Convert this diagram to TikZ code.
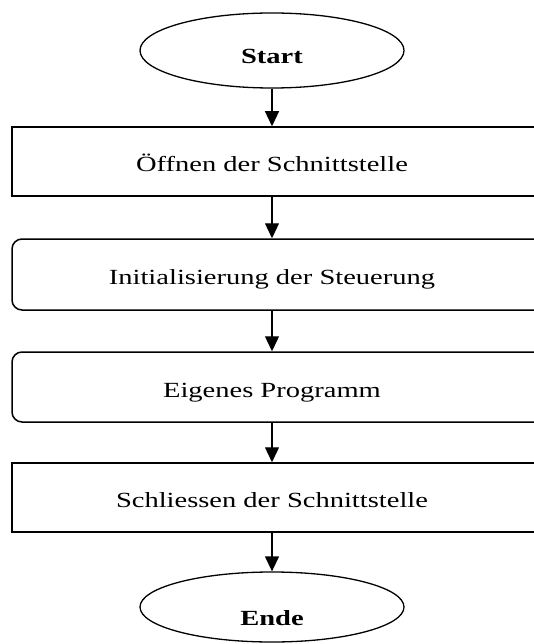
\documentclass[tikz,border=0pt]{standalone}
\usepackage{fontspec}
\setmainfont{Liberation Serif}
\usepackage{graphicx}
\usetikzlibrary{shapes.geometric,arrows.meta}
\newcommand{\sxt}[3]{\hspace*{#1}\raisebox{#2}[14.3pt][0pt]{\scalebox{1.32}[1]{#3}}}
\begin{document}
\begin{tikzpicture}[x=1pt,y=-1pt,
  txt/.style={font=\fontsize{21.6}{24}\selectfont},
  term/.style={draw, line width=1.3pt, ellipse, minimum width=264pt, inner sep=0pt, font=\fontsize{21.6}{24}\selectfont\bfseries},
  proc/.style={draw, line width=1.5pt, rectangle, minimum width=533pt, minimum height=69pt, inner sep=0pt, txt},
  rproc/.style={proc, rounded corners=10pt},
  arr/.style={line width=1.3pt, -{Triangle[length=15pt,width=14pt]}}]
\useasboundingbox (0,0) rectangle (534,644);
\node[term, minimum height=75pt] (s) at (272,50.5) {\sxt{0pt}{-5.5pt}{Start}};
\node[proc] (b1) at (278.5,161.5) {\sxt{-13pt}{-3pt}{Öffnen der Schnittstelle}};
\node[rproc, minimum height=71pt] (b2) at (278.5,274.5) {\sxt{-13pt}{-3pt}{Initialisierung der Steuerung}};
\node[rproc, minimum height=70pt] (b3) at (278.5,387) {\sxt{-13pt}{-3pt}{Eigenes Programm}};
\node[proc] (b4) at (278.5,497.5) {\sxt{-13pt}{-3pt}{Schliessen der Schnittstelle}};
\node[term, minimum height=70pt] (e) at (272,607) {\sxt{0pt}{-11pt}{Ende}};
\draw[arr] (s.south) -- (s.south |- b1.north);
\draw[arr] (b1.south -| s.south) -- (b2.north -| s.south);
\draw[arr] (b2.south -| s.south) -- (b3.north -| s.south);
\draw[arr] (b3.south -| s.south) -- (b4.north -| s.south);
\draw[arr] (b4.south -| s.south) -- (e.north);
\end{tikzpicture}
\end{document}
